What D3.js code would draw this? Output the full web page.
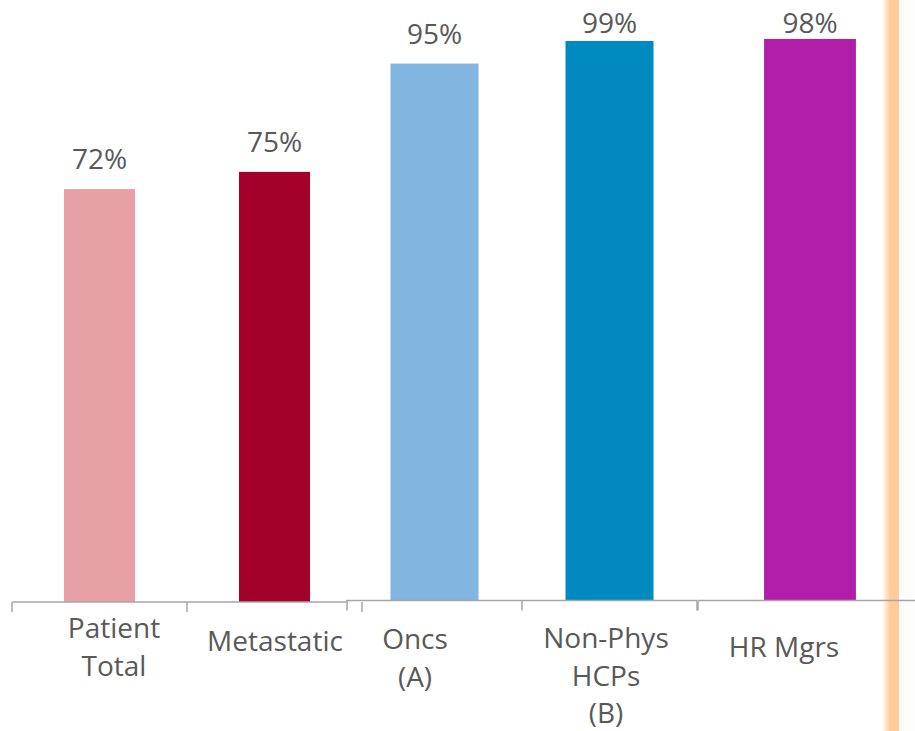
<!DOCTYPE html>
<html>
<head>
<meta charset="utf-8">
<script src="https://cdn.jsdelivr.net/npm/d3@7"></script>
<style>
  html, body { margin: 0; padding: 0; background: #fff; }
  svg { display: block; }
  text { font-family: "Open Sans", "Noto Sans", sans-serif; fill: #595959; }
</style>
</head>
<body>
<div id="chart"></div>
<script>
// data
var categories = ["Patient Total", "Metastatic", "Oncs (A)", "Non-Phys HCPs (B)", "HR Mgrs"];
var labelLines = [["Patient", "Total"], ["Metastatic"], ["Oncs", "(A)"], ["Non-Phys", "HCPs", "(B)"], ["HR Mgrs"]];
var values = [72, 75, 95, 99, 98];
var colors = ["#E6A0A6", "#A3002A", "#82B5DF", "#008ABF", "#B01EAA"];
var panelOf = [0, 0, 1, 1, 2];

// layout of the three pasted-together chart pieces
var width = 915, height = 731;
var panels = [
  {x0: 12,  x1: 362, base: 602,   top100: 28.5, lineFrom: 12,  lineTo: 346, pad: 0.594},
  {x0: 347, x1: 697, base: 600.5, top100: 35.3, lineFrom: 346, lineTo: 697, pad: 0.497},
  {x0: 698, x1: 922, base: 600.5, top100: 27.5, lineFrom: 698, lineTo: 915, pad: 0.59}
];
// label nudges [dx, first baseline]
var labelNudge = [[14.5, 638], [0.5, 651], [-19.5, 649], [-3.5, 648], [-26, 657]];

var svg = d3.select("#chart").append("svg")
  .attr("width", width)
  .attr("height", height);

// orange strip at the right
var defs = svg.append("defs");
var grad = defs.append("linearGradient").attr("id", "orange")
  .attr("x1", "0%").attr("x2", "100%").attr("y1", "0%").attr("y2", "0%");
grad.append("stop").attr("offset", "0%").attr("stop-color", "#FFCC99").attr("stop-opacity", 0);
grad.append("stop").attr("offset", "47%").attr("stop-color", "#FFCC99").attr("stop-opacity", 1);
grad.append("stop").attr("offset", "100%").attr("stop-color", "#FFCC99").attr("stop-opacity", 1);
svg.append("rect").attr("x", 899).attr("y", 0).attr("width", 16).attr("height", height).attr("fill", "#FDFDFD");
svg.append("rect").attr("x", 882).attr("y", 0).attr("width", 17).attr("height", height).attr("fill", "url(#orange)");

panels.forEach(function (p, pi) {
  var idx = d3.range(categories.length).filter(function (i) { return panelOf[i] === pi; });
  var cats = idx.map(function (i) { return categories[i]; });
  var x = d3.scaleBand().domain(cats).range([p.x0, p.x1])
    .paddingInner(p.pad).paddingOuter(p.pad / 2);
  var y = d3.scaleLinear().domain([0, 100]).range([p.base, p.top100]);
  var g = svg.append("g");

  g.selectAll("rect.bar").data(idx).enter().append("rect")
    .attr("class", "bar")
    .attr("x", function (i) { return x(categories[i]); })
    .attr("width", x.bandwidth())
    .attr("y", function (i) { return y(values[i]); })
    .attr("height", function (i) { return p.base - y(values[i]); })
    .attr("fill", function (i) { return colors[i]; });

  g.selectAll("text.val").data(idx).enter().append("text")
    .attr("class", "val")
    .attr("x", function (i) { return x(categories[i]) + x.bandwidth() / 2; })
    .attr("y", function (i) { return Math.max(y(values[i]) - 20, 32.5); })
    .attr("text-anchor", "middle")
    .style("font-size", "28px")
    .text(function (i) { return values[i] + "%"; });

  // axis line + ticks at band edges (excel style)
  var edges = cats.map(function (c) { return x(c) - x.step() * p.pad / 2; });
  edges.push(p.x1);
  g.append("line")
    .attr("x1", p.lineFrom).attr("x2", p.lineTo)
    .attr("y1", p.base).attr("y2", p.base)
    .attr("stroke", "#A6A6A6").attr("stroke-width", 1.5);
  g.selectAll("line.tick").data(edges).enter().append("line")
    .attr("class", "tick")
    .attr("x1", function (d) { return d; }).attr("x2", function (d) { return d; })
    .attr("y1", p.base).attr("y2", p.base + 10)
    .attr("stroke", "#A6A6A6").attr("stroke-width", 1.5);

  var lab = g.selectAll("text.cat").data(idx).enter().append("text")
    .attr("class", "cat")
    .attr("text-anchor", "middle")
    .style("font-size", "28px");
  lab.each(function (i) {
    var t = d3.select(this);
    var cx = x(categories[i]) + x.bandwidth() / 2 + labelNudge[i][0];
    labelLines[i].forEach(function (line, k) {
      t.append("tspan").attr("x", cx).attr("y", labelNudge[i][1] + k * 37.5).text(line);
    });
  });
});
</script>
</body>
</html>
